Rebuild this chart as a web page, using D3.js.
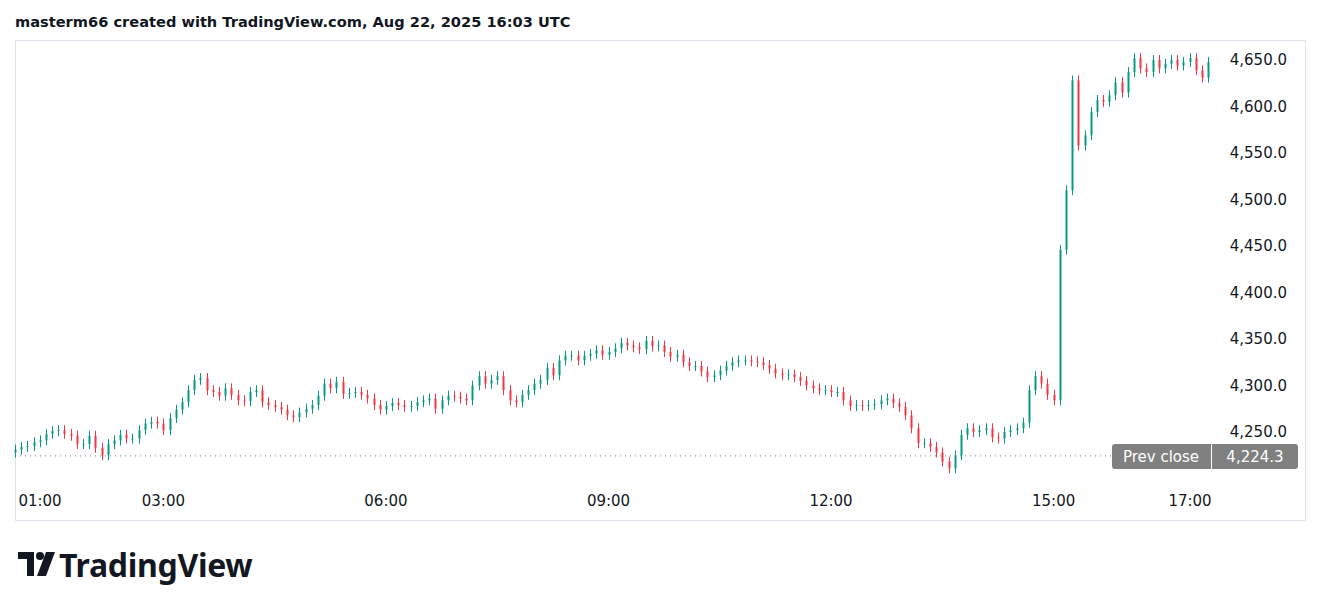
<!DOCTYPE html>
<html><head><meta charset="utf-8">
<script src="https://cdn.jsdelivr.net/npm/d3@7"></script>
<style>body{margin:0;background:#fff;font-family:"DejaVu Sans",sans-serif}</style>
</head><body><svg id="c" width="1320" height="611"></svg>
<script>
// 5-minute closes starting 01:00
const closes = [4231,4234,4235,4239,4241,4248,4251,4252,4248,4246,4237,4237,4246,4233,4225,4237,4241,4247,4243,4243,
4252,4259,4261,4259,4252,4265,4274,4282,4295,4306,4308,4295,4293,4289,4297,4290,4284,4283,4293,4295,
4282,4279,4277,4274,4268,4266,4271,4275,4279,4289,4302,4297,4304,4291,4292,4293,4290,4286,4279,4274,
4278,4281,4279,4277,4278,4282,4284,4286,4275,4284,4289,4288,4286,4284,4300,4310,4302,4306,4310,4295,
4284,4282,4290,4295,4302,4306,4319,4311,4327,4332,4332,4327,4332,4334,4338,4333,4336,4340,4346,4343,
4341,4339,4348,4342,4343,4336,4331,4333,4325,4321,4321,4315,4309,4311,4316,4321,4325,4327,4327,4326,
4325,4322,4318,4313,4311,4312,4309,4305,4300,4297,4295,4295,4293,4293,4284,4278,4279,4278,4279,4280,
4284,4286,4281,4277,4268,4254,4238,4238,4234,4228,4218,4211,4225,4247,4254,4250,4252,4254,4244,4243,
4250,4252,4254,4260,4295,4310,4302,4290,4284,4446,4510,4628,4558,4569,4594,4607,4605,4612,4626,4615,
4637,4652,4641,4637,4650,4641,4646,4650,4644,4648,4652,4639,4631,4648];
const firstOpen = 4228;
const priceTicks = [4250,4300,4350,4400,4450,4500,4550,4600,4650];
const timeTicks = ["01:00","03:00","06:00","09:00","12:00","15:00","17:00"];
const prevClose = 4224.3;

const svg = d3.select("#c");
const t0 = new Date(2025,7,22,1,0);
const x = d3.scaleTime().domain([t0, new Date(2025,7,22,17,0)]).range([15,1202]);
const y = d3.scaleLinear().domain([4250,4650]).range([432,60]);
const fmt = d3.format(",.1f");

svg.append("rect").attr("x",15.5).attr("y",40.5).attr("width",1290).attr("height",480).attr("fill","none").attr("stroke","#e0e3eb");

svg.append("text").attr("x",15).attr("y",27).attr("font-size",14.6).attr("font-weight",700).attr("fill","#131722")
  .text("masterm66 created with TradingView.com, Aug 22, 2025 16:03 UTC");

svg.append("line").attr("x1",15).attr("x2",1112).attr("y1",y(prevClose)).attr("y2",y(prevClose))
  .attr("stroke","#787b86").attr("stroke-width",1).attr("stroke-dasharray","1,4");

const data = closes.map((c,i)=>{
  const o = i===0?firstOpen:closes[i-1];
  return {t:new Date(+t0+i*5*60000), o, c};
});
const g = svg.append("g");
data.forEach(d=>{
  const col = d.c>=d.o?"#089981":"#f23645";
  const cx = Math.round(x(d.t));
  const y1 = y(Math.max(d.o,d.c)), y2 = y(Math.min(d.o,d.c));
  g.append("line").attr("x1",cx+0.5).attr("x2",cx+0.5).attr("y1",y1-5).attr("y2",y2+5).attr("stroke",col).attr("stroke-width",1);
  g.append("rect").attr("x",cx-0.5).attr("y",y1).attr("width",2).attr("height",Math.max(1,y2-y1)).attr("fill",col);
});

svg.selectAll(".pt").data(priceTicks).enter().append("text")
  .attr("x",1287).attr("y",d=>y(d)+5).attr("text-anchor","end").attr("font-size",15).attr("fill","#131722").text(d=>fmt(d));

const tpos = timeTicks.map(s=>{const [h]=s.split(":").map(Number);return x(new Date(2025,7,22,h,0));});
svg.selectAll(".tt").data(timeTicks).enter().append("text")
  .attr("x",(d,i)=> i===0?40: i===timeTicks.length-1? tpos[i]-12 : tpos[i])
  .attr("y",506).attr("text-anchor","middle").attr("font-size",15).attr("fill","#131722").text(d=>d);

const ly = y(prevClose);
svg.append("rect").attr("x",1112).attr("y",ly-12).attr("width",186).attr("height",25).attr("rx",3).attr("fill","#808080");
svg.append("line").attr("x1",1211.5).attr("x2",1211.5).attr("y1",ly-12).attr("y2",ly+13).attr("stroke","#fff");
svg.append("text").attr("x",1161).attr("y",ly+6).attr("text-anchor","middle").attr("font-size",15).attr("fill","#fff").text("Prev close");
svg.append("text").attr("x",1255).attr("y",ly+6).attr("text-anchor","middle").attr("font-size",15).attr("fill","#fff").text(fmt(prevClose));

const lg = svg.append("g").attr("transform","translate(18,552)");
lg.append("path").attr("d","M0 0 H16 V24 H9 V7 H0 Z").attr("fill","#131722");
lg.append("circle").attr("cx",22).attr("cy",4).attr("r",4).attr("fill","#131722");
lg.append("path").attr("d","M28 0 H37 L28 24 H19 Z").attr("fill","#131722");
svg.append("text").attr("x",59).attr("y",577).attr("font-family","Noto Sans").attr("font-size",32).attr("font-weight",700).attr("letter-spacing",-0.3).attr("fill","#131722").text("TradingView");
</script></body></html>
